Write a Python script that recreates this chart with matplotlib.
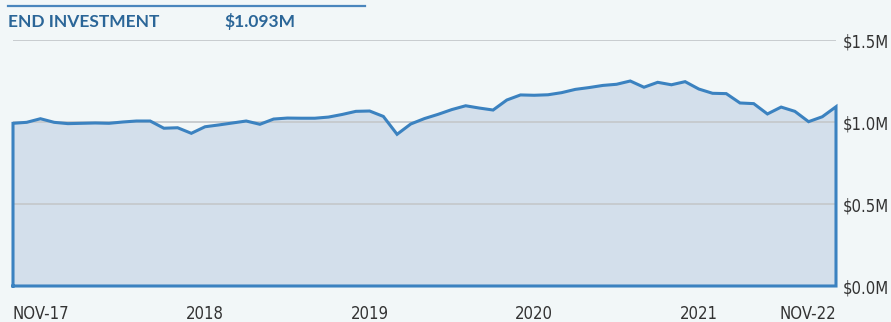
import matplotlib.pyplot as plt

# month-end value of the investment, in $M, Nov-17 .. Nov-22
values = [0.992, 0.998, 1.020, 0.998, 0.990, 0.992, 0.994, 0.992, 1.000, 1.006,
          1.006, 0.962, 0.965, 0.931, 0.971, 0.982, 0.994, 1.006, 0.986, 1.018,
          1.024, 1.023, 1.023, 1.030, 1.046, 1.065, 1.067, 1.034, 0.925, 0.988,
          1.021, 1.047, 1.076, 1.099, 1.085, 1.073, 1.134, 1.165, 1.163, 1.166,
          1.179, 1.199, 1.210, 1.223, 1.230, 1.250, 1.212, 1.242, 1.227, 1.246,
          1.201, 1.175, 1.173, 1.116, 1.112, 1.049, 1.091, 1.065, 1.002, 1.032,
          1.093]
months = list(range(len(values)))

tick_pos = [0, 14, 26, 38, 50, 60]
tick_labels = ['NOV-17', '2018', '2019', '2020', '2021', 'NOV-22']
y_ticks = [0.0, 0.5, 1.0, 1.5]

bg = '#f2f7f8'
blue = '#3b82c0'
fill = '#d3dfeb'

fig = plt.figure(figsize=(8.91, 3.22), dpi=100, facecolor=bg)
ax = fig.add_axes([13/891, 36/322, 823/891, 246/322], facecolor=bg)

# gridlines
for v in y_ticks:
    ax.axhline(v, color='#c5c9cc', lw=1.3, zorder=2)

# closed area outline: left edge, curve, right edge, bottom
xs = [months[0]] + months + [months[-1], months[0]]
ys = [0] + values + [0, 0]
ax.fill(xs, ys, facecolor=fill, edgecolor='none', zorder=1)
ax.plot(xs, ys, color=blue, lw=2.2, zorder=3, clip_on=False,
        solid_joinstyle='miter')

ax.set_xlim(months[0], months[-1])
ax.set_ylim(0, 1.5)
for s in ax.spines.values():
    s.set_visible(False)

ax.yaxis.tick_right()
ax.set_yticks(y_ticks)
ax.set_yticklabels(['$%.1fM' % v for v in y_ticks])
ax.set_xticks(tick_pos)
ax.set_xticklabels(tick_labels)
ax.tick_params(length=0, labelsize=12, labelcolor='#333333')
ax.tick_params(axis='y', pad=5)
ax.tick_params(axis='x', pad=14)
for lab in ax.get_yticklabels() + ax.get_xticklabels():
    lab.set_fontfamily('DejaVu Sans')
    lab.set_fontstretch('condensed')
xl = ax.get_xticklabels()
xl[0].set_ha('left')
xl[-1].set_ha('right')

# header
fig.add_artist(plt.Line2D([8/891, 365/891], [1 - 6/322, 1 - 6/322],
                          color='#4a86bd', lw=1.6))
fig.text(8/891, 1 - 22/322, 'END INVESTMENT', color='#2b6698', fontsize=12.5,
         fontweight='bold', family='Lato', va='center')
fig.text(224/891, 1 - 22/322, '$1.093M', color='#2b6698', fontsize=12.5,
         fontweight='bold', family='Lato', va='center')

fig.savefig('out.png', dpi=100, facecolor=bg)
